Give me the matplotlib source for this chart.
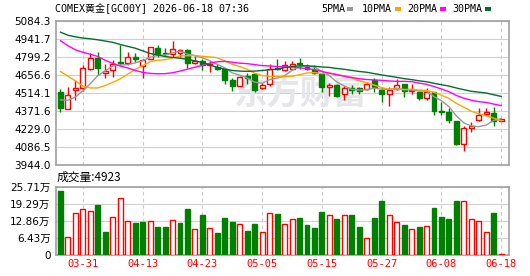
import numpy as np
import matplotlib
matplotlib.use('Agg')
import matplotlib.pyplot as plt
from matplotlib.patches import Rectangle

plt.rcParams['font.family'] = ['DejaVu Sans', 'Noto Sans CJK SC']

# daily candles (index 0..59)
opens = [4516.7, 4386.4, 4535.0, 4548.0, 4699.0, 4785.3, 4673.0, 4691.4, 4756.6, 4751.4,
         4795.7, 4725.3, 4782.7, 4863.5, 4824.4, 4816.6, 4824.4, 4847.8, 4751.4, 4764.4,
         4730.5, 4717.5, 4704.5, 4613.2, 4563.7, 4647.1, 4660.1, 4548.0, 4582.0, 4712.3,
         4694.0, 4704.5, 4746.0, 4717.5, 4694.0, 4660.1, 4561.0, 4576.7, 4503.7, 4548.0,
         4550.6, 4542.8, 4613.2, 4535.0, 4503.7, 4542.8, 4581.9, 4527.2, 4522.0, 4472.4,
         4516.8, 4373.4, 4365.5, 4287.3, 4112.7, 4237.8, 4300.4, 4347.3, 4355.0, 4292.5]
highs = [4542.8, 4561.0, 4613.0, 4730.5, 4824.4, 4834.8, 4738.4, 4769.6, 4894.8, 4834.8,
         4824.4, 4777.5, 4873.9, 4894.8, 4863.5, 4920.8, 4855.7, 4855.7, 4803.5, 4782.7,
         4764.4, 4738.4, 4712.3, 4634.0, 4647.1, 4673.2, 4673.2, 4595.0, 4743.6, 4777.5,
         4764.4, 4764.4, 4785.3, 4738.4, 4730.5, 4668.0, 4595.0, 4582.0, 4568.9, 4576.7,
         4555.9, 4600.2, 4628.8, 4555.9, 4555.9, 4621.0, 4587.1, 4581.9, 4527.0, 4550.6,
         4522.0, 4438.6, 4394.2, 4295.0, 4248.2, 4282.0, 4394.2, 4391.6, 4404.7, 4308.2]
lows = [4360.3, 4386.4, 4456.8, 4529.8, 4691.4, 4652.3, 4634.0, 4641.9, 4733.0, 4730.5,
        4759.2, 4634.0, 4777.5, 4795.7, 4803.5, 4795.7, 4795.7, 4707.0, 4738.4, 4691.4,
        4681.0, 4691.4, 4582.0, 4529.8, 4563.7, 4582.0, 4516.8, 4542.8, 4568.9, 4691.4,
        4686.2, 4691.4, 4699.3, 4691.4, 4660.1, 4522.0, 4490.7, 4477.6, 4459.4, 4503.7,
        4503.7, 4537.6, 4522.0, 4438.6, 4407.3, 4535.0, 4482.9, 4503.7, 4459.4, 4459.4,
        4342.0, 4342.0, 4274.0, 4099.6, 4055.3, 4203.9, 4295.1, 4339.5, 4248.2, 4292.5]
closes = [4391.6, 4495.9, 4548.0, 4707.0, 4785.0, 4712.0, 4686.0, 4738.4, 4746.0, 4795.7,
          4782.7, 4769.6, 4873.9, 4821.8, 4816.6, 4855.7, 4847.8, 4751.4, 4764.4, 4730.5,
          4738.4, 4704.5, 4615.8, 4563.7, 4639.3, 4634.0, 4535.0, 4574.0, 4704.5, 4699.3,
          4730.5, 4743.6, 4738.4, 4704.5, 4668.0, 4555.9, 4574.0, 4490.7, 4548.0, 4537.6,
          4529.8, 4582.0, 4555.9, 4503.7, 4535.0, 4574.0, 4529.8, 4535.0, 4469.8, 4516.8,
          4368.1, 4365.5, 4300.4, 4107.5, 4237.8, 4248.2, 4339.5, 4365.5, 4287.3, 4308.2]

# moving averages as drawn
ma5 = [4458, 4455, 4480, 4530, 4585.5, 4649.6, 4687.6, 4725.7, 4733.5, 4735.6,
       4749.8, 4766.5, 4793.6, 4808.7, 4812.9, 4827.5, 4843.2, 4818.7, 4807.2, 4790.0,
       4766.5, 4737.8, 4710.7, 4670.6, 4652.3, 4631.5, 4597.6, 4589.2, 4617.4, 4629.4,
       4648.7, 4690.4, 4723.3, 4723.3, 4717.0, 4682.1, 4648.2, 4598.6, 4567.3, 4541.2,
       4536.0, 4537.6, 4550.7, 4541.8, 4541.3, 4550.1, 4539.7, 4535.5, 4528.7, 4525.1,
       4483.9, 4451.0, 4404.1, 4331.7, 4275.9, 4251.9, 4246.7, 4259.7, 4295.7, 4309.7]
ma10 = [4682, 4645, 4608, 4566, 4552, 4552, 4572, 4596, 4624, 4660.6,
        4699.7, 4727.0, 4759.6, 4771.1, 4774.3, 4788.6, 4804.8, 4806.1, 4808.0, 4801.4,
        4797.0, 4790.5, 4764.7, 4738.9, 4721.2, 4699.0, 4667.7, 4650.0, 4644.0, 4640.9,
        4640.1, 4644.0, 4656.2, 4670.3, 4673.2, 4665.4, 4669.3, 4660.9, 4645.3, 4629.1,
        4609.0, 4592.9, 4574.6, 4554.6, 4541.3, 4543.1, 4538.7, 4543.1, 4535.3, 4533.2,
        4517.0, 4495.4, 4469.8, 4430.2, 4400.5, 4367.9, 4348.9, 4331.9, 4313.7, 4292.8]
ma20 = [4925, 4885, 4853, 4833, 4818, 4800, 4770, 4746, 4725, 4710,
        4690, 4675, 4667, 4664, 4665, 4672, 4685, 4700, 4716, 4731.0,
        4748.3, 4758.8, 4762.2, 4755.0, 4747.7, 4743.8, 4736.3, 4728.0, 4726.0, 4721.1,
        4718.5, 4717.2, 4710.5, 4704.6, 4697.2, 4682.2, 4668.5, 4655.5, 4644.6, 4635.0,
        4624.6, 4618.4, 4615.4, 4612.4, 4607.2, 4604.2, 4604.0, 4602.0, 4590.3, 4581.2,
        4563.0, 4544.1, 4522.2, 4492.4, 4470.9, 4455.5, 4443.8, 4437.5, 4424.5, 4413.0]
ma30 = [4992, 4968, 4955, 4946, 4940, 4932, 4922, 4912, 4895, 4880,
        4866, 4845, 4824, 4812, 4800, 4793, 4786, 4778, 4766, 4753,
        4733, 4714, 4700, 4690, 4685, 4683, 4685, 4690, 4696, 4700.9,
        4712.2, 4720.5, 4726.9, 4726.8, 4722.9, 4717.7, 4713.9, 4705.7, 4699.1, 4690.5,
        4682.0, 4675.8, 4665.2, 4654.6, 4645.2, 4635.8, 4625.2, 4618.0, 4608.2, 4601.1,
        4588.7, 4577.4, 4566.9, 4551.7, 4538.3, 4525.4, 4518.9, 4512.0, 4498.1, 4485.0]

# volume in 万 (10k)
volume = [24.08, 6.90, 15.68, 17.18, 16.43, 18.81, 8.65, 14.17, 21.32, 12.92,
          12.04, 12.41, 12.67, 10.41, 10.41, 13.04, 12.04, 17.31, 9.66, 15.05,
          10.03, 8.28, 13.79, 12.41, 11.54, 9.03, 11.66, 8.65, 15.93, 15.42,
          11.66, 13.54, 13.92, 11.29, 10.16, 16.30, 15.05, 13.54, 15.05, 15.05,
          10.53, 6.40, 13.92, 20.31, 15.05, 12.41, 11.29, 9.78, 10.53, 10.91,
          17.68, 14.30, 13.54, 20.31, 20.31, 13.54, 12.79, 8.65, 15.80, 0.49]

date_pos = [3, 11, 19, 27, 35, 43, 51, 59]
date_labels = ['03-31', '04-13', '04-23', '05-05', '05-15', '05-27', '06-08', '06-18']
price_labels = ['3944.0', '4086.5', '4229.0', '4371.6', '4514.1', '4656.6', '4799.2', '4941.7', '5084.3']
vol_ticks = [0, 6.43, 12.86, 19.29, 25.71]
vol_labels = ['0', '6.43万', '12.86万', '19.29万', '25.71万']

RED = '#ff0000'
GREEN = '#008000'
ma_colors = ['#999999', '#ffa500', '#ff00ff', '#006f2f']
mono = ['DejaVu Sans Mono', 'Noto Sans CJK SC']

o = np.array(opens); c = np.array(closes)
h = np.array(highs); l = np.array(lows)
x = np.arange(len(o))
up = c >= o

fig = plt.figure(figsize=(5.3, 2.76), dpi=100)
W, H = 530, 276
ax = fig.add_axes([56 / W, 1 - 165 / H, 453 / W, 144.5 / H])
axv = fig.add_axes([56 / W, 21 / H, 453 / W, 68.5 / H])

for a in (ax, axv):
    a.set_xlim(-0.6, 60.04)
    for s in a.spines.values():
        s.set_color('#a0a0a0')
        s.set_linewidth(1.2)
    a.tick_params(length=0, labelsize=7.5, pad=4)
    a.set_xticks(date_pos)
    a.grid(axis='x', color='#c8c8c8', linestyle=(0, (3, 3)), linewidth=0.8)
    a.grid(axis='y', color='#d0d0d0', linestyle='-', linewidth=0.8)
    a.set_axisbelow(True)

# candles
ax.vlines(x[up], l[up], h[up], color=RED, linewidth=1, zorder=2)
ax.vlines(x[~up], l[~up], h[~up], color=GREEN, linewidth=1, zorder=2)
body = np.maximum(np.abs(c - o), 6)
ax.bar(x[up], body[up], bottom=np.minimum(o, c)[up], width=0.66,
       facecolor='white', edgecolor=RED, linewidth=1, zorder=3)
ax.bar(x[~up], body[~up], bottom=np.minimum(o, c)[~up], width=0.66,
       facecolor=GREEN, edgecolor=GREEN, linewidth=1, zorder=3)

for ma, col in zip([ma5, ma10, ma20, ma30], ma_colors):
    ax.plot(x, ma, color=col, linewidth=1, zorder=4)

ax.set_ylim(3944.0, 5084.3)
ax.set_yticks(np.linspace(3944.0, 5084.3, 9))
ax.set_yticklabels(price_labels)
ax.set_xticklabels([])

ax.text(0.539, 0.484, '东方财富', transform=ax.transAxes, fontsize=24,
        fontweight='bold', color='#e6e6ea', ha='center', va='center',
        family=['Noto Sans CJK SC'], zorder=0.6)

# volume
v = np.array(volume)
vup = np.concatenate([[False], c[1:] > c[:-1]])
axv.bar(x[vup], v[vup], width=0.66, facecolor='white', edgecolor=RED, linewidth=1, zorder=3)
axv.bar(x[~vup], v[~vup], width=0.66, facecolor=GREEN, edgecolor=GREEN, linewidth=1, zorder=3)
axv.set_ylim(0, 25.71)
axv.set_yticks(vol_ticks)
axv.set_yticklabels(vol_labels)
axv.set_xticklabels(date_labels, color=RED, family=mono, fontsize=7.5)
axv.tick_params(axis='x', pad=3)

# header texts
fig.text(55 / W, 1 - 9 / H, 'COMEX黄金[GC00Y] 2026-06-18 07:36', fontsize=7.2,
         family=mono, va='center', ha='left')
legend_x = [321, 362, 407, 452]
for name, lx, col in zip(['5PMA', '10PMA', '20PMA', '30PMA'], legend_x, ma_colors):
    t = fig.text(lx / W, 1 - 9 / H, name, fontsize=7.2, family=mono, va='center', ha='left')
    mx = lx + 6.1 * len(name) + 2
    fig.patches.append(Rectangle((mx / W, 1 - 10.7 / H), 6 / W, 3.4 / H,
                                 facecolor=col, edgecolor='none', transform=fig.transFigure))
fig.text(57 / W, 1 - 177.5 / H, '成交量:4923', fontsize=8.5,
         family=['Noto Sans CJK SC'], va='center', ha='left')

fig.savefig('out.png', dpi=100)
